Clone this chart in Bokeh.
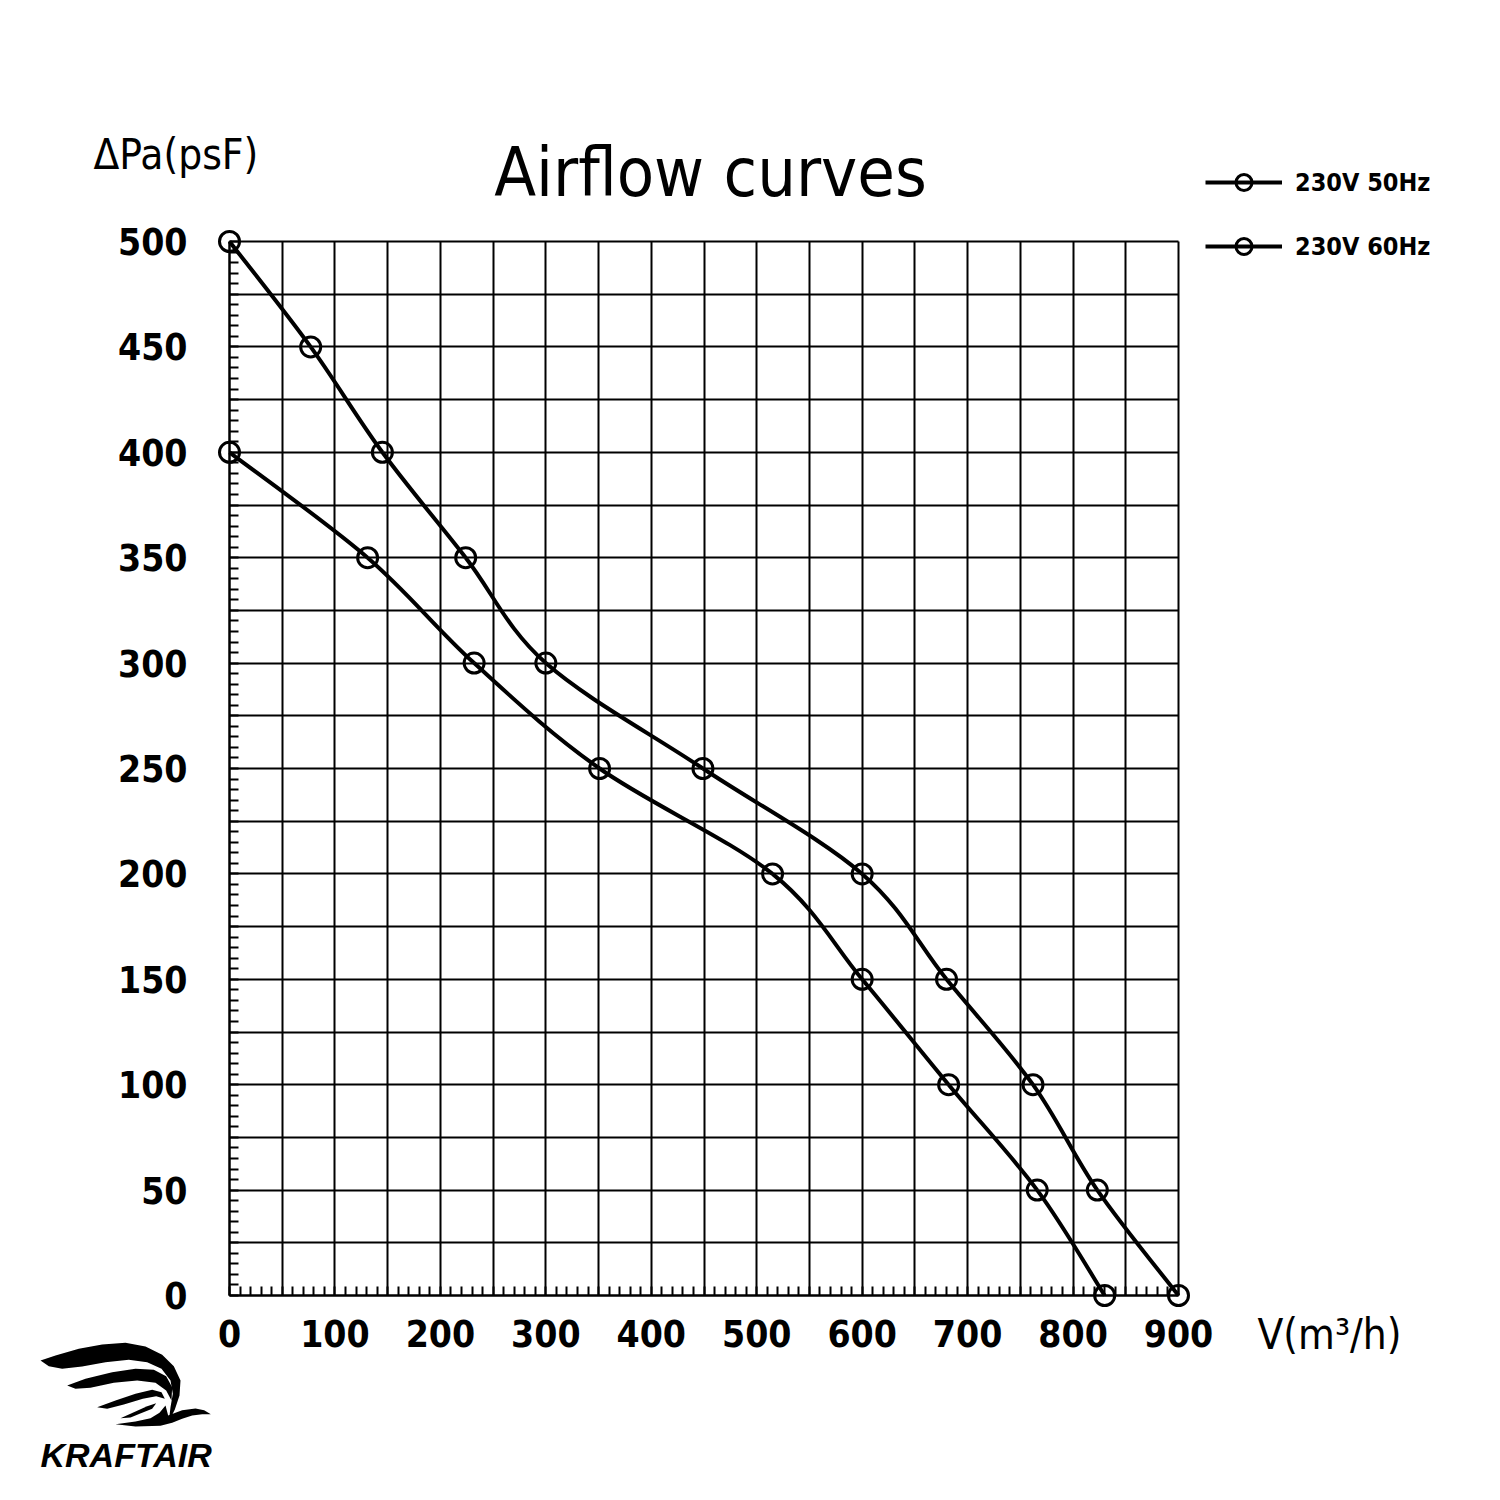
from bokeh.plotting import figure
from bokeh.models import (Range1d, FixedTicker, Label, Legend, LegendItem, PolyAnnotation)
from bokeh.embed import file_html
from bokeh.resources import INLINE

# ---- data ----
flow_50hz = [0, 77, 145, 224, 300, 449, 600, 680, 762, 823, 900]
pressure_50hz = [500, 450, 400, 350, 300, 250, 200, 150, 100, 50, 0]
flow_60hz = [0, 131, 232, 351, 515, 600, 682, 766, 830]
pressure_60hz = [400, 350, 300, 250, 200, 150, 100, 50, 0]
series_names = ["230V 50Hz", "230V 60Hz"]
x_tick_values = [0, 100, 200, 300, 400, 500, 600, 700, 800, 900]
y_tick_values = [0, 50, 100, 150, 200, 250, 300, 350, 400, 450, 500]

COND = "DejaVu Sans Condensed"

# ---- layout (pixels) ----
W, H = 1485, 1492
X0, XPX = 229, 949 / 900.0     # page x of flow 0, pixels per m3/h
Y0, YPX = 1295, 1054 / 500.0   # page y of pressure 0, pixels per Pa


def smooth_segments(xs, ys):
    """Catmull-Rom through the data points, as cubic Bezier segments."""
    n = len(xs)
    out = {k: [] for k in ("x0", "y0", "x1", "y1", "cx0", "cy0", "cx1", "cy1")}
    for i in range(n - 1):
        xp, yp = (xs[i - 1], ys[i - 1]) if i > 0 else (xs[i], ys[i])
        xn, yn = (xs[i + 2], ys[i + 2]) if i + 2 < n else (xs[i + 1], ys[i + 1])
        out["x0"].append(xs[i]); out["y0"].append(ys[i])
        out["x1"].append(xs[i + 1]); out["y1"].append(ys[i + 1])
        out["cx0"].append(xs[i] + (xs[i + 1] - xp) / 6.0)
        out["cy0"].append(ys[i] + (ys[i + 1] - yp) / 6.0)
        out["cx1"].append(xs[i + 1] - (xn - xs[i]) / 6.0)
        out["cy1"].append(ys[i + 1] - (yn - ys[i]) / 6.0)
    return out


p = figure(frame_width=W, frame_height=H, min_border=0,
           x_range=Range1d(-X0 / XPX, (W - X0) / XPX),
           y_range=Range1d(-(H - Y0) / YPX, Y0 / YPX),
           output_backend="svg", toolbar_location=None,
           background_fill_color="white", border_fill_color="white")
p.outline_line_color = None

p.xaxis.ticker = FixedTicker(ticks=x_tick_values, minor_ticks=list(range(0, 901, 10)))
p.yaxis.ticker = FixedTicker(ticks=y_tick_values, minor_ticks=list(range(0, 501, 5)))
p.xaxis.fixed_location = 0
p.yaxis.fixed_location = 0
p.xaxis.bounds = (0, 900)
p.yaxis.bounds = (0, 500)

p.xgrid.ticker = FixedTicker(ticks=list(range(0, 901, 50)))
p.ygrid.ticker = FixedTicker(ticks=list(range(0, 501, 25)))
p.xgrid.bounds = (0, 900)
p.ygrid.bounds = (0, 500)
p.xgrid.cross_bounds = (0, 500)
p.ygrid.cross_bounds = (0, 900)
for g in (p.xgrid, p.ygrid):
    g.grid_line_color = "black"
    g.grid_line_width = 2
    g.grid_line_alpha = 1

for ax in (p.xaxis, p.yaxis):
    ax.axis_line_color = "black"
    ax.axis_line_width = 2
    ax.major_tick_in = 0
    ax.major_tick_out = 0
    ax.minor_tick_in = 9
    ax.minor_tick_out = 0
    ax.minor_tick_line_width = 2
    ax.minor_tick_line_color = "black"
    ax.major_label_text_font = COND
    ax.major_label_text_font_style = "bold"
    ax.major_label_text_color = "black"
    ax.major_label_text_font_size = "37px"

p.xaxis.major_label_standoff = 24
p.yaxis.major_label_standoff = 42

# curves
seg50 = smooth_segments(flow_50hz, pressure_50hz)
seg60 = smooth_segments(flow_60hz, pressure_60hz)
b50 = p.bezier(line_color="black", line_width=4, **seg50)
b60 = p.bezier(line_color="black", line_width=4, **seg60)
s50 = p.scatter(flow_50hz, pressure_50hz, marker="circle", size=20,
                fill_alpha=0, line_color="black", line_width=3)
s60 = p.scatter(flow_60hz, pressure_60hz, marker="circle", size=20,
                fill_alpha=0, line_color="black", line_width=3)

legend = Legend(items=[LegendItem(label=series_names[0], renderers=[b50, s50]),
                       LegendItem(label=series_names[1], renderers=[b60, s60])],
                location=(1205, H - 266), glyph_width=77, glyph_height=40,
                spacing=24, label_standoff=13, padding=0, margin=0,
                border_line_alpha=0, background_fill_alpha=0,
                label_text_font=COND, label_text_font_style="bold",
                label_text_color="black",
                label_text_font_size="25px", label_height=40)
p.add_layout(legend)


def sx(page_x):
    return page_x


def sy(page_y):
    return H - page_y


p.add_layout(Label(x=sx(710), y=sy(172), x_units="screen", y_units="screen",
                   text="Airflow curves", text_font=COND, text_font_size="68px",
                   text_align="center", text_baseline="alphabetic", text_color="black"))
p.add_layout(Label(x=sx(93), y=sy(154), x_units="screen", y_units="screen",
                   text="ΔPa(psF)", text_font=COND, text_font_size="42px",
                   text_align="left", text_baseline="alphabetic", text_color="black"))
p.add_layout(Label(x=sx(1257), y=sy(1334), x_units="screen", y_units="screen",
                   text="V(m³/h)", text_font=COND, text_font_size="42px",
                   text_align="left", text_baseline="alphabetic", text_color="black"))
p.add_layout(Label(x=sx(40), y=sy(1454), x_units="screen", y_units="screen",
                   text="KRAFTAIR", text_font="Liberation Sans", text_font_size="34px",
                   text_font_style="bold italic",
                   text_align="left", text_baseline="alphabetic", text_color="black"))

# logo bird (decoration); outline points in 3x-zoom coordinates of the logo area
bird_shapes = [
    [(15, 75), (60, 60), (130, 40), (200, 27), (270, 22), (330, 33), (380, 58), (415, 92),
     (435, 135), (432, 180), (418, 222), (400, 258), (405, 215), (412, 175), (405, 135),
     (378, 100), (335, 80), (280, 73), (210, 80), (140, 93), (80, 100), (40, 92)],
    [(95, 150), (150, 130), (230, 110), (300, 100), (355, 103), (392, 122), (410, 155),
     (408, 195), (392, 165), (360, 142), (305, 135), (235, 142), (165, 157), (120, 160)],
    [(185, 215), (240, 195), (300, 175), (350, 163), (378, 170), (388, 190), (362, 182),
     (322, 190), (265, 207), (215, 220)],
    [(255, 248), (295, 230), (335, 212), (362, 203), (350, 220), (320, 232), (285, 246)],
    [(240, 266), (300, 258), (345, 248), (372, 232), (390, 210), (398, 240), (440, 224),
     (480, 219), (506, 224), (526, 236), (500, 236), (470, 240), (440, 250), (410, 262),
     (375, 271), (300, 273)],
]
for shape in bird_shapes:
    xs = [sx(35 + X / 3.0) for X, Y in shape]
    ys = [sy(1335 + Y / 3.0) for X, Y in shape]
    p.add_layout(PolyAnnotation(xs=xs, ys=ys, xs_units="screen", ys_units="screen",
                                fill_color="black", fill_alpha=1, line_color=None))

open("out.html", "w").write(file_html(p, INLINE))
